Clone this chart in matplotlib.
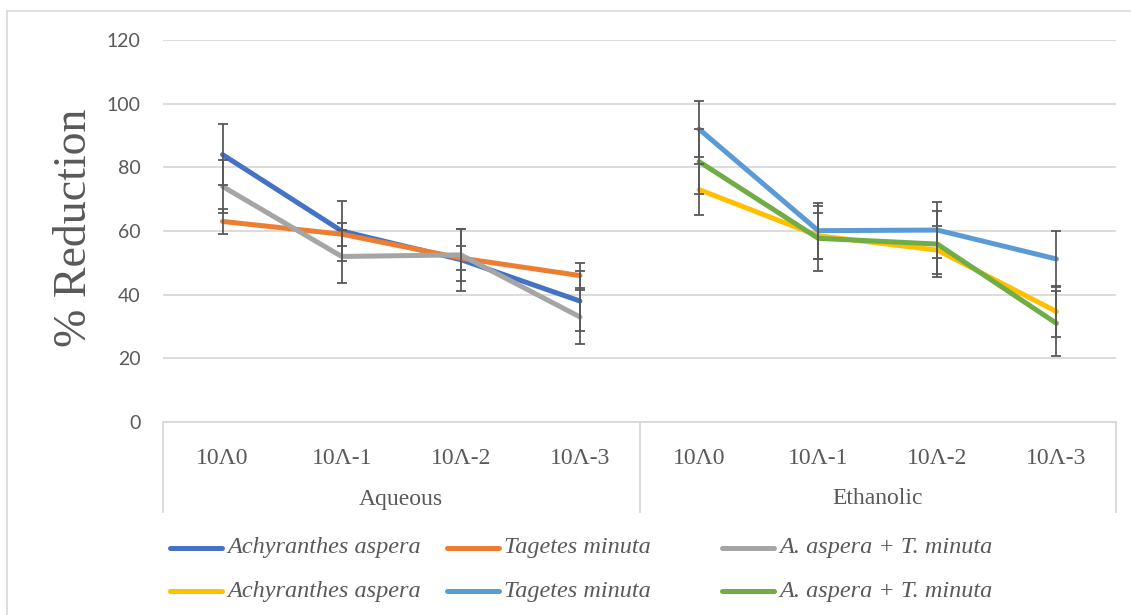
import matplotlib
matplotlib.use("Agg")
import matplotlib.pyplot as plt
from matplotlib.lines import Line2D

# ---------------- data ----------------
dilutions = ["10Λ0", "10Λ-1", "10Λ-2", "10Λ-3"]
groups = ["Aqueous", "Ethanolic"]
series_names = ["Achyranthes aspera", "Tagetes minuta", "A. aspera + T. minuta",
                "Achyranthes aspera", "Tagetes minuta", "A. aspera + T. minuta"]

aq_achyranthes = [84, 60, 51, 38]
aq_achyranthes_err = [9.5, 9.3, 9.7, 9.5]
aq_tagetes = [63, 59, 51.5, 46]
aq_tagetes_err = [3.8, 3.6, 3.8, 3.8]
aq_combo = [74, 52, 52.5, 33]
aq_combo_err = [8.2, 8.4, 8.2, 8.5]

et_achyranthes = [73, 58.5, 54, 34.7]
et_achyranthes_err = [8.1, 7.3, 7.6, 8.0]
et_tagetes = [92, 60.1, 60.3, 51.2]
et_tagetes_err = [8.8, 8.8, 8.8, 8.9]
et_combo = [81.8, 57.7, 55.9, 31]
et_combo_err = [10.2, 10.3, 10.3, 10.3]

colors = ["#4472C4", "#ED7D31", "#A5A5A5", "#FFC000", "#5B9BD5", "#70AD47"]
y_ticks = [0, 20, 40, 60, 80, 100, 120]

# ---------------- figure ----------------
W, H = 1131, 615
fig = plt.figure(figsize=(W / 100, H / 100), dpi=100)
txt = "#595959"
grid_c = "#D9D9D9"
serif = ["Liberation Serif", "DejaVu Serif"]

def fx(px):
    return px / W

def fy(py):
    return 1 - py / H

ax_left, ax_right, ax_top, ax_bot = 163, 1116, 40, 422
ax = fig.add_axes([fx(ax_left), fy(ax_bot), fx(ax_right - ax_left), (ax_bot - ax_top) / H])

ax.set_xlim(-0.5, 7.5)
ax.set_ylim(0, 120)
ax.set_yticks(y_ticks)
ax.yaxis.grid(True, color=grid_c, lw=1.3)
ax.set_axisbelow(True)
for s in ["top", "right", "left"]:
    ax.spines[s].set_visible(False)
ax.spines["bottom"].set_color(grid_c)
ax.spines["bottom"].set_linewidth(1.3)
ax.tick_params(axis="y", length=0, pad=16, labelsize=14, labelcolor=txt)
for lab in ax.get_yticklabels():
    lab.set_fontfamily(["Lato", "DejaVu Sans"])

n = len(dilutions)
xpos_aq = list(range(n))
xpos_et = [i + n for i in range(n)]
ax.set_xticks(xpos_aq + xpos_et)
ax.set_xticklabels(dilutions * 2, fontsize=17, color=txt, fontfamily=serif)
ax.tick_params(axis="x", length=0, pad=19)

all_series = [
    (xpos_aq, aq_achyranthes, aq_achyranthes_err),
    (xpos_aq, aq_tagetes, aq_tagetes_err),
    (xpos_aq, aq_combo, aq_combo_err),
    (xpos_et, et_achyranthes, et_achyranthes_err),
    (xpos_et, et_tagetes, et_tagetes_err),
    (xpos_et, et_combo, et_combo_err),
]

for i, (xs, ys, es) in enumerate(all_series):
    ax.plot(xs, ys, color=colors[i], lw=3.6, solid_capstyle="round",
            solid_joinstyle="round", zorder=3)
for i, (xs, ys, es) in enumerate(all_series):
    ax.errorbar(xs, ys, yerr=es, fmt="none", ecolor="#595959", elinewidth=1.3,
                capsize=3.8, capthick=1.3, zorder=5)

# group labels and separators below the axis
tr = ax.get_xaxis_transform()
sep_depth = (512 - ax_bot) / (ax_bot - ax_top)
for b in [-0.5, n - 0.5, 2 * n - 0.5]:
    ax.plot([b, b], [0, -sep_depth], transform=tr, color=grid_c, lw=1.3, clip_on=False)
grp_y = -(499 - ax_bot) / (ax_bot - ax_top)
for gi, g in enumerate(groups):
    ax.text(gi * n + (n - 1) / 2, grp_y, g, transform=tr, ha="center", va="center",
            fontsize=17, color=txt, fontfamily=serif)

# y label
fig.text(fx(75), fy(228), "% Reduction", rotation=90, ha="center", va="center",
         fontsize=33, color=txt, fontfamily=serif)

# legend (manual layout)
leg_rows = [548, 591]
leg_cols = [170, 447, 722]
for i, name in enumerate(series_names):
    r, c = divmod(i, 3)
    x0 = leg_cols[c]
    y0 = leg_rows[r]
    fig.add_artist(Line2D([fx(x0), fx(x0 + 52)], [fy(y0), fy(y0)], color=colors[i],
                          lw=3.6, solid_capstyle="round"))
    fig.text(fx(x0 + 57), fy(y0), name, ha="left", va="center", fontsize=17.5,
             style="italic", color=txt, fontfamily=serif)

# outer chart border
fig.add_artist(Line2D([fx(7), fx(7)], [fy(11), 0], color=grid_c, lw=1.2))
fig.add_artist(Line2D([fx(7), fx(1130)], [fy(11), fy(11)], color=grid_c, lw=1.2))

fig.savefig("out.png", dpi=100)
